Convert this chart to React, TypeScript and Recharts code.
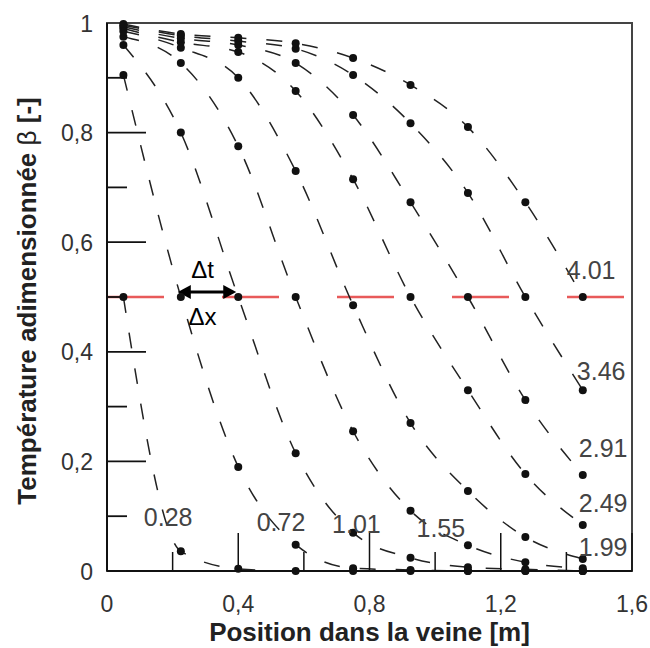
import React from "react";
import {
  ComposedChart,
  Line,
  XAxis,
  YAxis,
  ReferenceLine,
  ReferenceDot,
  ReferenceArea,
  Label,
} from "recharts";

// Thermocouple positions along the vein [m]
const positions = [0.05, 0.225, 0.4, 0.575, 0.75, 0.925, 1.1, 1.275, 1.45];

// Dimensionless temperature profiles, one per time
const t028 = [0.5, 0.036, 0.004, 0.0, 0.0, 0.0, 0.0, 0.0, 0.0];
const t072 = [0.905, 0.5, 0.19, 0.048, 0.005, 0.002, 0.0, 0.0, 0.0];
const t101 = [0.96, 0.8, 0.5, 0.215, 0.07, 0.024, 0.007, 0.003, 0.0];
const t155 = [0.975, 0.927, 0.775, 0.5, 0.255, 0.11, 0.047, 0.016, 0.005];
const t199 = [0.985, 0.955, 0.9, 0.73, 0.485, 0.27, 0.146, 0.062, 0.022];
const t249 = [0.99, 0.965, 0.947, 0.876, 0.715, 0.5, 0.33, 0.177, 0.084];
const t291 = [0.993, 0.972, 0.96, 0.927, 0.832, 0.673, 0.5, 0.312, 0.175];
const t346 = [0.996, 0.977, 0.967, 0.953, 0.905, 0.817, 0.69, 0.5, 0.33];
const t401 = [0.998, 0.98, 0.973, 0.963, 0.936, 0.887, 0.81, 0.673, 0.5];

const curves = [t028, t072, t101, t155, t199, t249, t291, t346, t401];
const curveLabels = ["0.28", "0.72", "1.01", "1.55", "1.99", "2.49", "2.91", "3.46", "4.01"];

const xTicks = [0, 0.2, 0.4, 0.6, 0.8, 1.0, 1.2, 1.4, 1.6];
const yTicks = [0, 0.1, 0.2, 0.3, 0.4, 0.5, 0.6, 0.7, 0.8, 0.9, 1.0];
const halfLevel = 0.5;

// label placement (style): anchor point index on curve + pixel offset
const labelPlacement = [
  { idx: 1, dx: -37, dy: -25 },
  { idx: 3, dx: -39, dy: -14 },
  { idx: 4, dx: -21, dy: 0 },
  { idx: 5, dx: 6, dy: 26 },
  { idx: 8, dx: -4, dy: -3 },
  { idx: 8, dx: -4, dy: -13 },
  { idx: 8, dx: -4, dy: -18 },
  { idx: 8, dx: -6, dy: -10 },
  { idx: 8, dx: -16, dy: -18 },
];

const table = positions.map((x, i) => {
  const row: any = { x };
  curves.forEach((c, k) => {
    row["c" + k] = c[i];
  });
  return row;
});

const FONT = "'Liberation Sans', Arial, sans-serif";

const fmt = (v: number) => String(Math.round(v * 10) / 10).replace(".", ",");

const XTick = (props: any) => {
  const { x, y, payload } = props;
  const v = payload.value;
  const major = Math.round(v * 10) % 4 === 0;
  return (
    <g>
      <line x1={x} x2={x} y1={y} y2={y - (major ? 38 : 19)} stroke="#111" strokeWidth={1.5} />
      {major && (
        <text x={x} y={y + 41} textAnchor="middle" fontFamily={FONT} fontSize={23} fill="#333">
          {fmt(v)}
        </text>
      )}
    </g>
  );
};

const YTick = (props: any) => {
  const { x, y, payload } = props;
  const v = payload.value;
  const major = Math.round(v * 10) % 2 === 0;
  return (
    <g>
      {v > 0 && v < 1 && (
        <line x1={x} x2={x + (major ? 39 : 20)} y1={y} y2={y} stroke="#111" strokeWidth={1.8} />
      )}
      {major && (
        <text x={x - 14} y={y + 8.5} textAnchor="end" fontFamily={FONT} fontSize={23} fill="#333">
          {fmt(v)}
        </text>
      )}
    </g>
  );
};

const ArrowShape = (p: any) => {
  const { x1, y1, x2 } = p;
  const yy = y1 - 5;
  const a = x1 - 3;
  const b = x2 - 2;
  const mid = (x1 + x2) / 2;
  return (
    <g>
      <line x1={a + 10} x2={b - 10} y1={yy} y2={yy} stroke="#000" strokeWidth={3} />
      <polygon points={`${a},${yy} ${a + 13},${yy - 7} ${a + 13},${yy + 7}`} fill="#000" />
      <polygon points={`${b},${yy} ${b - 13},${yy - 7} ${b - 13},${yy + 7}`} fill="#000" />
      <text x={mid - 7} y={y1 - 19} textAnchor="middle" fontFamily={FONT} fontSize={24} fill="#000">
        Δt
      </text>
      <text x={mid - 7} y={y1 + 28} textAnchor="middle" fontFamily={FONT} fontSize={24} fill="#000">
        Δx
      </text>
    </g>
  );
};

export default function App() {
  return (
    <div style={{ position: "absolute", left: 8, top: 8, width: 642, height: 640 }}>
      <ComposedChart
        width={642}
        height={640}
        data={table}
        margin={{ top: 15, right: 18, bottom: 0, left: 0 }}
        style={{ background: "#fff" }}
      >
        <XAxis
          dataKey="x"
          type="number"
          domain={[0, 1.6]}
          ticks={xTicks}
          interval={0}
          tickSize={0}
          tickMargin={0}
          tick={<XTick />}
          height={77}
          axisLine={{ stroke: "#111", strokeWidth: 2 }}
        >
          <Label
            content={(lp: any) => {
              const vb = lp.viewBox;
              return (
                <text
                  x={vb.x + vb.width / 2}
                  y={vb.y + 70}
                  textAnchor="middle"
                  fontFamily={FONT}
                  fontWeight="bold"
                  fontSize={26}
                  fill="#222"
                >
                  Position dans la veine [m]
                </text>
              );
            }}
          />
        </XAxis>
        <YAxis
          type="number"
          domain={[0, 1]}
          ticks={yTicks}
          interval={0}
          tickSize={0}
          tickMargin={0}
          tick={<YTick />}
          width={99}
          axisLine={{ stroke: "#111", strokeWidth: 2 }}
        >
          <Label
            content={(lp: any) => {
              const vb = lp.viewBox;
              const cx = 28;
              const cy = vb.y + vb.height / 2 + 4;
              return (
                <text
                  x={cx}
                  y={cy}
                  transform={`rotate(-90 ${cx} ${cy})`}
                  textAnchor="middle"
                  fontFamily={FONT}
                  fontWeight="bold"
                  fontSize={26}
                  fill="#222"
                >
                  Température adimensionnée <tspan fontWeight="normal">β</tspan> [-]
                </text>
              );
            }}
          />
        </YAxis>
        <ReferenceArea x1={0} x2={1.6} y1={0} y2={1} fill="none" stroke="#444" strokeWidth={2} />
        <ReferenceLine y={halfLevel} stroke="#e85a5a" strokeWidth={2.5} strokeDasharray="57 58" />
        {curves.map((c, k) => (
          <Line
            key={k}
            dataKey={"c" + k}
            type="monotone"
            stroke="#222"
            strokeWidth={1.5}
            strokeDasharray="16 20"
            dot={{ r: 4, fill: "#111", stroke: "none" }}
            activeDot={false}
            isAnimationActive={false}
          />
        ))}
        <ReferenceLine
          segment={[
            { x: positions[1], y: halfLevel },
            { x: positions[2], y: halfLevel },
          ]}
          shape={ArrowShape}
        />
        {curves.map((c, k) => {
          const pl = labelPlacement[k];
          return (
            <ReferenceDot
              key={"l" + k}
              x={positions[pl.idx]}
              y={c[pl.idx]}
              r={0}
              shape={(p: any) => (
                <text
                  x={p.cx + pl.dx}
                  y={p.cy + pl.dy}
                  fontFamily={FONT}
                  fontSize={25}
                  fill="#444"
                >
                  {curveLabels[k]}
                </text>
              )}
            />
          );
        })}
      </ComposedChart>
    </div>
  );
}
